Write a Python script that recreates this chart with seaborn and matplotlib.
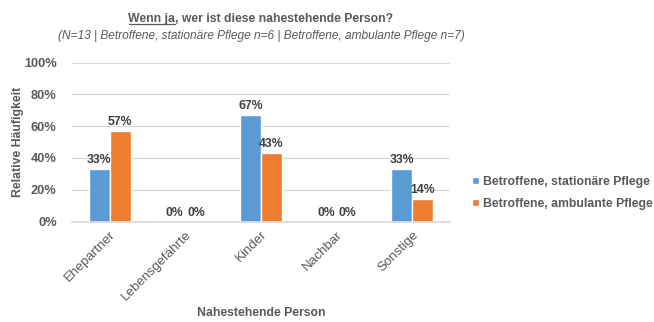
import matplotlib
matplotlib.use("Agg")
import matplotlib.pyplot as plt
import seaborn as sns
import pandas as pd
from matplotlib.ticker import PercentFormatter

categories = ["Ehepartner", "Lebensgefährte", "Kinder", "Nachbar", "Sonstige"]
stationaer = [33, 0, 67, 0, 33]
ambulant = [57, 0, 43, 0, 14]
series_names = ["Betroffene, stationäre Pflege", "Betroffene, ambulante Pflege"]
colors = ["#5B9BD5", "#ED7D31"]

df = pd.DataFrame({
    "Person": categories * 2,
    "Wert": stationaer + ambulant,
    "Gruppe": [series_names[0]] * len(categories) + [series_names[1]] * len(categories),
})

sns.set_theme(style="white")
plt.rcParams["font.family"] = ["Liberation Sans", "DejaVu Sans"]
text_col = "#595959"

fig = plt.figure(figsize=(6.54, 3.22), dpi=100)
ax_top, ax_bot = 62.5, 221.5
ax = fig.add_axes([72 / 654, 1 - ax_bot / 322, (450 - 72) / 654, (ax_bot - ax_top) / 322])

sns.barplot(data=df, x="Person", y="Wert", hue="Gruppe", palette=colors,
            width=0.56, saturation=1, ax=ax, legend=True)

ax.set_ylim(0, 100)
ax.set_yticks(range(0, 101, 20))
ax.yaxis.set_major_formatter(PercentFormatter(decimals=0))
ax.grid(axis="y", color="#D9D9D9", linewidth=0.9)
ax.set_axisbelow(True)
for s in ["top", "right", "left"]:
    ax.spines[s].set_visible(False)
ax.spines["bottom"].set_color("#D9D9D9")
ax.tick_params(axis="both", length=0, colors=text_col)
ax.tick_params(axis="y", pad=11, labelsize=9.2)
ax.tick_params(axis="x", pad=5, labelsize=9.6)
for lbl in ax.get_yticklabels():
    lbl.set_fontweight("bold")
plt.setp(ax.get_xticklabels(), rotation=45, ha="right", rotation_mode="anchor",
         color=text_col)

ax.set_xlabel("Nahestehende Person", fontsize=8.8, fontweight="bold", color=text_col)
ax.xaxis.set_label_coords(0.5, (ax_bot - 313.5) / (ax_bot - ax_top))
ax.xaxis.label.set_va("center")
ax.set_ylabel("Relative Häufigkeit", fontsize=8.8, fontweight="bold", color=text_col)
ax.yaxis.set_label_coords(-(72 - 18) / (450 - 72), 0.5)
ax.yaxis.label.set_va("center")

for cont in ax.containers:
    ax.bar_label(cont, labels=[f"{v:.0f}%" for v in cont.datavalues],
                 fontsize=8.8, fontweight="bold", color="#404040", padding=2)

leg = ax.legend(loc="center left", bbox_to_anchor=(1.03, 0.18), frameon=False,
                fontsize=8.8, handlelength=0.55, handleheight=0.55, handletextpad=0.3,
                labelspacing=0.85)
for t in leg.get_texts():
    t.set_color(text_col)
    t.set_fontweight("bold")

# Title with underlined first words
cx = (72 + 450) / 2 / 654
fig.canvas.draw()
renderer = fig.canvas.get_renderer()
part1 = "Wenn ja"
part2 = ", wer ist diese nahestehende Person?"
tkw = dict(fontsize=8.8, fontweight="bold", color=text_col, va="baseline")
probe = fig.text(0, 0, part1 + part2, **tkw)
w_all = probe.get_window_extent(renderer).width
probe.remove()
x0_px = cx * 654 - w_all / 2
y_base = 1 - 22 / 322
t1 = fig.text(x0_px / 654, y_base, part1, ha="left", **tkw)
w1 = t1.get_window_extent(renderer).width
fig.text((x0_px + w1) / 654, y_base, part2, ha="left", **tkw)
fig.add_artist(plt.Line2D([x0_px / 654, (x0_px + w1) / 654],
                          [y_base - 2.2 / 322, y_base - 2.2 / 322],
                          color=text_col, linewidth=0.9))

fig.text(cx, 1 - 39 / 322,
         "(N=13 | Betroffene, stationäre Pflege n=6 | Betroffene, ambulante Pflege n=7)",
         ha="center", va="baseline", fontsize=8.6, style="italic", color=text_col)

fig.savefig("out.png", dpi=100)
